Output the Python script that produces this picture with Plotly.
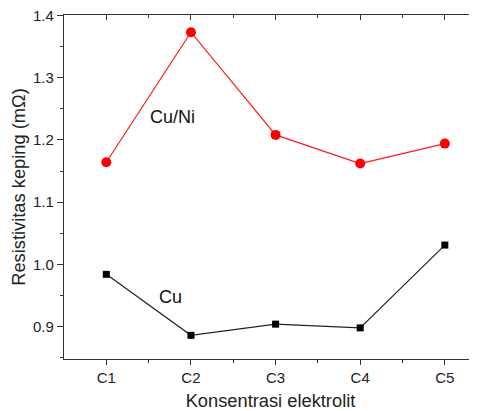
import plotly.graph_objects as go

categories = ["C1", "C2", "C3", "C4", "C5"]
cuni_values = [1.164, 1.373, 1.208, 1.162, 1.194]
cu_values = [0.984, 0.886, 0.904, 0.898, 1.031]
y_ticks = [0.9, 1.0, 1.1, 1.2, 1.3, 1.4]

xpos = list(range(len(categories)))
font = "Liberation Sans, Arial, sans-serif"

fig = go.Figure()
fig.add_trace(go.Scatter(x=xpos, y=cuni_values, mode="lines+markers",
                         line=dict(color="#ff1a1a", width=1.2),
                         marker=dict(symbol="circle", size=10, color="#ff0000"),
                         showlegend=False))
fig.add_trace(go.Scatter(x=xpos, y=cu_values, mode="lines+markers",
                         line=dict(color="#222222", width=1.2),
                         marker=dict(symbol="square", size=7, color="#000000"),
                         showlegend=False))
# invisible trace on the top (mirrored) axis
fig.add_trace(go.Scatter(x=[xpos[0]], y=[cu_values[0]], xaxis="x2", mode="markers",
                         marker=dict(opacity=0), showlegend=False, hoverinfo="skip"))

xrange = [-0.5, 4.38]
fig.update_layout(
    width=469, height=403,
    margin=dict(l=56, r=0, t=7, b=52, autoexpand=False),
    paper_bgcolor="white", plot_bgcolor="white",
    font=dict(family=font, size=15, color="#222222"),
    xaxis=dict(range=xrange, tickmode="array", tickvals=xpos, ticktext=categories,
               automargin=False,
               showline=True, linecolor="#333333", linewidth=1.2,
               ticks="outside", ticklen=5, tickcolor="#333333", tickwidth=1.2,
               minor=dict(tickmode="array", tickvals=[0.5, 1.5, 2.5, 3.5], ticks="outside",
                          ticklen=3, tickcolor="#333333", tickwidth=1.2),
               showgrid=False, zeroline=False,
               title=dict(text="Konsentrasi elektrolit", font=dict(size=18.3), standoff=16),
               tickfont=dict(size=15)),
    xaxis2=dict(range=xrange, overlaying="x", side="top", anchor="y",
                automargin=False,
                tickmode="array", tickvals=xpos, showticklabels=False,
                showline=True, linecolor="#333333", linewidth=1.2,
                ticks="inside", ticklen=5, tickcolor="#333333", tickwidth=1.2,
                minor=dict(tickmode="array", tickvals=[0.5, 1.5, 2.5, 3.5], ticks="inside",
                           ticklen=3, tickcolor="#333333", tickwidth=1.2),
                showgrid=False, zeroline=False),
    yaxis=dict(range=[0.848, 1.4006], tickmode="array", tickvals=y_ticks,
               ticktext=[f"{v:.1f}" for v in y_ticks],
               automargin=False, ticklabeloverflow="allow",
               showline=True, linecolor="#333333", linewidth=1.2,
               ticks="outside", ticklen=6, tickcolor="#333333", tickwidth=1.2,
               minor=dict(tickmode="array", tickvals=[0.85, 0.95, 1.05, 1.15, 1.25, 1.35],
                          ticks="outside", ticklen=3, tickcolor="#333333", tickwidth=1.2),
               showgrid=False, zeroline=False,
               title=dict(text="Resistivitas keping (mΩ)", font=dict(size=18.3), standoff=2),
               tickfont=dict(size=15)),
    annotations=[
        dict(x=0.78, y=1.237, xref="x", yref="y", text="Cu/Ni", showarrow=False,
             font=dict(size=18, color="#111111")),
        dict(x=0.757, y=0.947, xref="x", yref="y", text="Cu", showarrow=False,
             font=dict(size=18, color="#111111")),
    ],
)

fig.write_html("out.html")
